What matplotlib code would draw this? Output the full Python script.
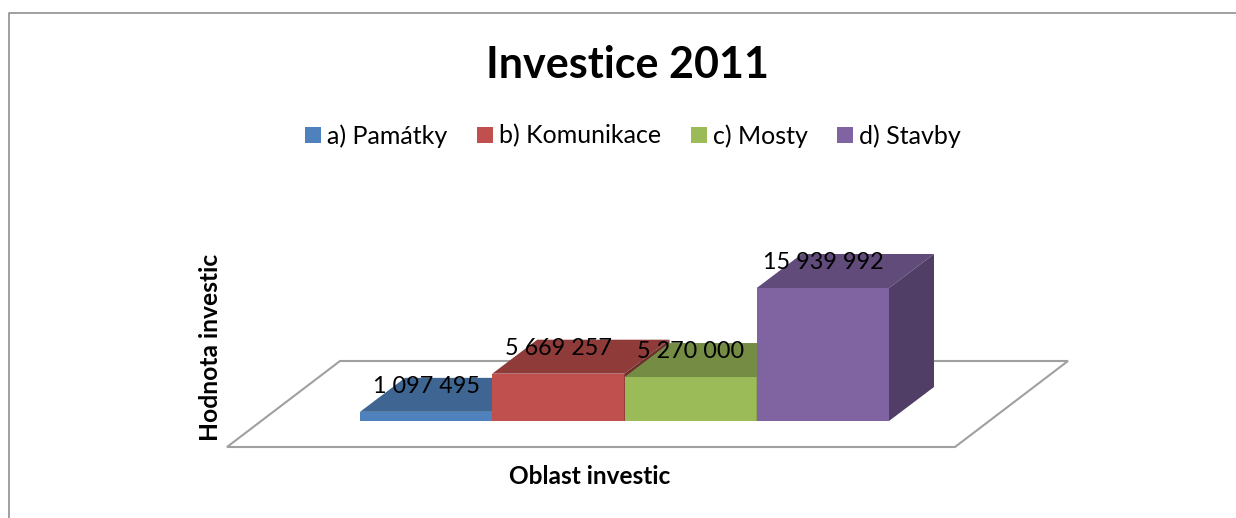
import matplotlib
matplotlib.use('Agg')
import matplotlib.pyplot as plt
from matplotlib.lines import Line2D
from matplotlib.patches import Patch, Polygon

categories = ['a) Památky', 'b) Komunikace', 'c) Mosty', 'd) Stavby']
values = [1097495, 5669257, 5270000, 15939992]
value_labels = ['1 097 495', '5 669 257', '5 270 000', '15 939 992']
front_colors = ['#4F81BD', '#C0504D', '#9BBB59', '#8064A2']
top_colors = ['#3F6692', '#8F3B39', '#748C43', '#604B7A']
side_colors = ['#344F70', '#6E2E2C', '#5A6C34', '#503E66']

W, H = 1236, 518
plt.rcParams['font.family'] = ['Lato', 'DejaVu Sans']


def px_x(px):
    return px / W


def px_y(py):
    return 1 - py / H


fig = plt.figure(figsize=(W / 100, H / 100), dpi=100, facecolor='white')
# axes box is exactly the front face area of the bars
ax = fig.add_axes([px_x(360), px_y(421), 529 / W, 133 / H])
ax.set_xlim(-0.5, 3.5)
ax.set_ylim(0, max(values))
ax.set_xticks([])
ax.set_yticks([])
for s in ax.spines.values():
    s.set_visible(False)
ax.patch.set_visible(False)

per_px_x = 4 / 529
per_px_y = max(values) / 133
dx = 45 * per_px_x
dy = 34 * per_px_y

# floor
fx = [px * per_px_x - 0.5 for px in (227 - 360, 955 - 360, 1068 - 360, 340 - 360)]
fy = [py * per_px_y for py in (-26, -26, 60, 60)]
ax.add_patch(Polygon(list(zip(fx, fy)), closed=True, facecolor='white',
                     edgecolor='#A0A0A0', lw=1.5, clip_on=False, zorder=1))

# bars, left to right so that each one covers the side of the previous
for i, v in enumerate(values):
    z = 2 + i
    l, r = i - 0.5, i + 0.5
    ax.bar(i, v, width=1, color=front_colors[i], zorder=z)
    ax.add_patch(Polygon([(l, v), (r, v), (r + dx, v + dy), (l + dx, v + dy)],
                         closed=True, facecolor=top_colors[i], edgecolor='none',
                         clip_on=False, zorder=z))
    ax.add_patch(Polygon([(r, 0), (r + dx, dy), (r + dx, v + dy), (r, v)],
                         closed=True, facecolor=side_colors[i], edgecolor='none',
                         clip_on=False, zorder=z))
    ax.annotate(value_labels[i], (i, v), xytext=(0, 18.2), textcoords='offset points',
                ha='center', va='center', fontsize=16.8, color='black', zorder=10)

ax.set_title('Investice 2011', fontsize=31, fontweight='bold', y=0, pad=0,
             x=0.5, va='center')
ax.title.set_transform(fig.transFigure)
ax.title.set_position((px_x(628), px_y(65)))

ax.set_xlabel('Oblast investic', fontsize=17.6, fontweight='bold', va='center')
ax.xaxis.set_label_coords(px_x(590), px_y(477), transform=fig.transFigure)
ax.set_ylabel('Hodnota investic', fontsize=17.7, fontweight='bold', va='center')
ax.yaxis.set_label_coords(px_x(210), px_y(347), transform=fig.transFigure)

handles = [Patch(facecolor=c, edgecolor='none', label=n) for c, n in zip(front_colors, categories)]
fig.legend(handles=handles, loc='center', bbox_to_anchor=(px_x(633), px_y(136)),
           ncols=4, frameon=False, fontsize=18, handlelength=0.64, handleheight=0.62,
           handletextpad=0.25, columnspacing=1.17, borderpad=0, borderaxespad=0)

# outer chart frame, cut off at the right and bottom of the picture
fig.add_artist(Line2D([px_x(8.5), px_x(8.5), 1], [0, px_y(12.5), px_y(12.5)],
                      color='#868686', lw=1.1, transform=fig.transFigure))

fig.savefig('out.png', dpi=100)
